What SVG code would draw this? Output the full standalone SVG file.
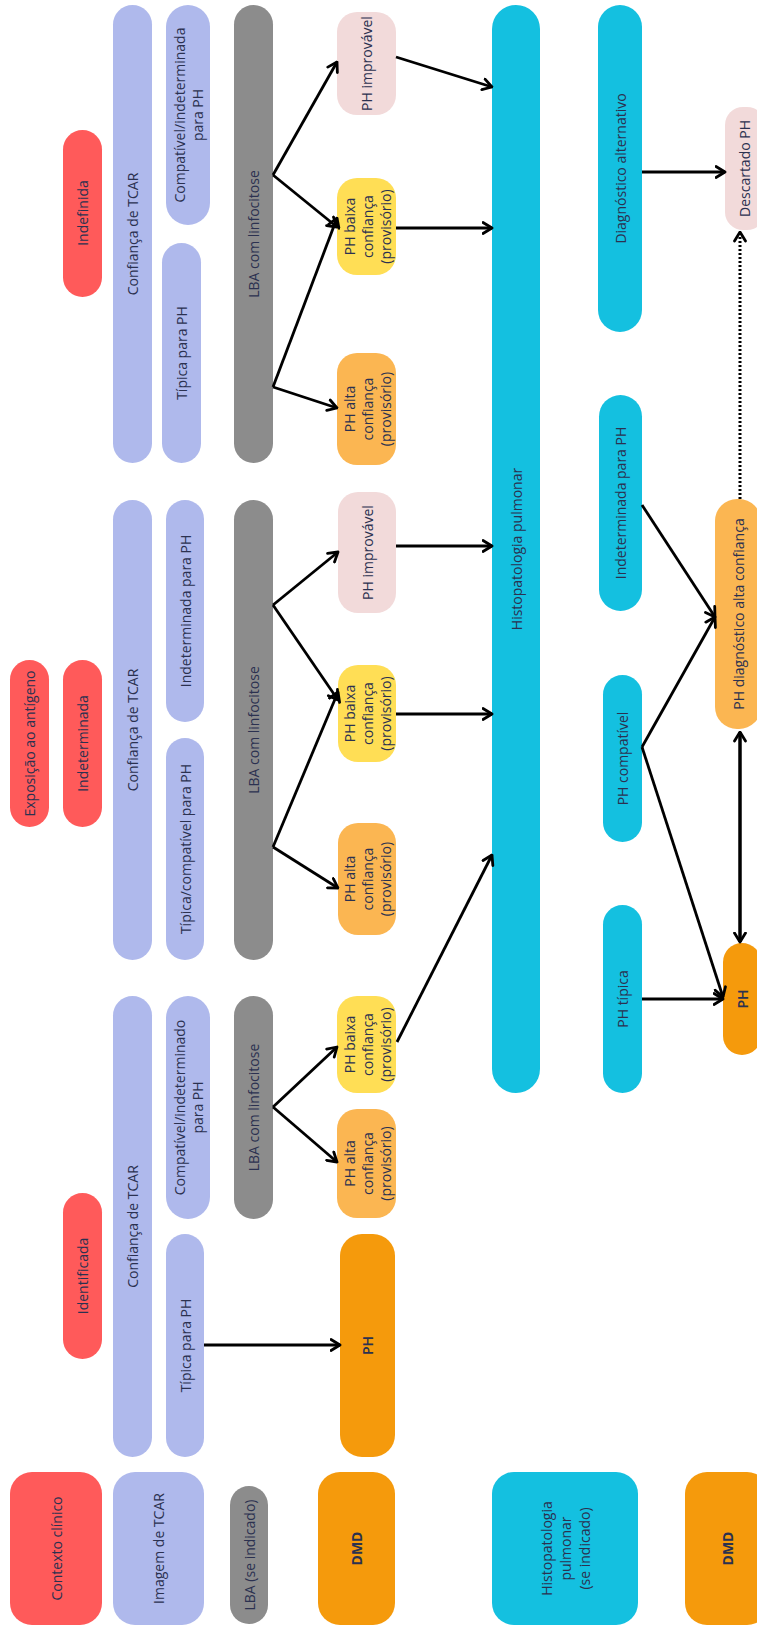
<svg xmlns="http://www.w3.org/2000/svg" width="757" height="1632" viewBox="0 0 757 1632">
<defs>
<style>
.red{fill:#FF5A5A}
.lav{fill:#AFB9EC}
.gray{fill:#8C8C8C}
.org{fill:#F59A0C}
.lor{fill:#FBB652}
.yel{fill:#FFDE55}
.pink{fill:#F2DADA}
.cyan{fill:#14C0E0}
text{font-family:"Open Sans","Noto Sans","Liberation Sans",sans-serif;font-size:14px;fill:#2b3150;text-anchor:middle;dominant-baseline:central}
.b{font-weight:bold}
.sb{font-weight:600}
.c line{stroke:#000;stroke-width:2.8;fill:none;marker-end:url(#ah)}
</style>
<marker id="ah" viewBox="0 0 12 14" refX="10.5" refY="7" markerWidth="12" markerHeight="14" markerUnits="userSpaceOnUse" orient="auto-start-reverse">
<path d="M1.5,1.5 L10.5,7 L1.5,12.5" fill="none" stroke="#000" stroke-width="2.8" stroke-linecap="round" stroke-linejoin="round"/>
</marker>
</defs>
<rect width="757" height="1632" fill="#fff"/>

<!-- Top group: Indefinida -->
<g id="n_indefinida"><rect class="red" x="63" y="130" width="39" height="167" rx="19.5"/><text transform="translate(82.5,213) rotate(-90)">Indefinida</text></g>
<g id="n_conf3"><rect class="lav" x="113" y="5" width="39" height="458" rx="19.5"/><text transform="translate(132.5,234) rotate(-90)">Confiança de TCAR</text></g>
<g id="n_compat3"><rect class="lav" x="166" y="5" width="44" height="220" rx="22"/><text transform="translate(188,115) rotate(-90)"><tspan x="0" dy="-9">Compatível/indeterminada</tspan><tspan x="0" dy="18">para PH</tspan></text></g>
<g id="n_tipica3"><rect class="lav" x="162" y="243" width="39" height="220" rx="19.5"/><text transform="translate(181.5,353) rotate(-90)">Típica para PH</text></g>
<g id="n_lba3"><rect class="gray" x="234" y="5" width="39" height="458" rx="19.5"/><text transform="translate(253.5,234) rotate(-90)">LBA com linfocitose</text></g>
<g id="n_improv3"><rect class="pink" x="337" y="12" width="59" height="103" rx="20"/><text transform="translate(366.5,63.5) rotate(-90)">PH improvável</text></g>
<g id="n_baixa3"><rect class="yel" x="337" y="178" width="59" height="97" rx="20"/><text transform="translate(366.5,226.5) rotate(-90)"><tspan x="0" dy="-18">PH baixa</tspan><tspan x="0" dy="18">confiança</tspan><tspan x="0" dy="18">(provisório)</tspan></text></g>
<g id="n_alta3"><rect class="lor" x="337" y="353" width="59" height="112" rx="20"/><text transform="translate(366.5,409) rotate(-90)"><tspan x="0" dy="-18">PH alta</tspan><tspan x="0" dy="18">confiança</tspan><tspan x="0" dy="18">(provisório)</tspan></text></g>

<!-- Middle group: Exposição ao antígeno / Indeterminada -->
<g id="n_expo"><rect class="red" x="10" y="660" width="39" height="167" rx="19.5"/><text transform="translate(29.5,743.5) rotate(-90)">Exposição ao antígeno</text></g>
<g id="n_indet2"><rect class="red" x="63" y="660" width="39" height="167" rx="19.5"/><text transform="translate(82.5,743.5) rotate(-90)">Indeterminada</text></g>
<g id="n_conf2"><rect class="lav" x="113" y="500" width="39" height="460" rx="19.5"/><text transform="translate(132.5,730) rotate(-90)">Confiança de TCAR</text></g>
<g id="n_indetPH2"><rect class="lav" x="166" y="500" width="38" height="222" rx="19"/><text transform="translate(185,611) rotate(-90)">Indeterminada para PH</text></g>
<g id="n_tipcomp2"><rect class="lav" x="166" y="738" width="38" height="222" rx="19"/><text transform="translate(185,849) rotate(-90)">Típica/compatível para PH</text></g>
<g id="n_lba2"><rect class="gray" x="234" y="500" width="39" height="460" rx="19.5"/><text transform="translate(253.5,730) rotate(-90)">LBA com linfocitose</text></g>
<g id="n_improv2"><rect class="pink" x="338" y="492" width="58" height="121" rx="20"/><text transform="translate(367,552.5) rotate(-90)">PH improvável</text></g>
<g id="n_baixa2"><rect class="yel" x="338" y="665" width="58" height="97" rx="20"/><text transform="translate(367,713.5) rotate(-90)"><tspan x="0" dy="-18">PH baixa</tspan><tspan x="0" dy="18">confiança</tspan><tspan x="0" dy="18">(provisório)</tspan></text></g>
<g id="n_alta2"><rect class="lor" x="338" y="823" width="58" height="112" rx="20"/><text transform="translate(367,879) rotate(-90)"><tspan x="0" dy="-18">PH alta</tspan><tspan x="0" dy="18">confiança</tspan><tspan x="0" dy="18">(provisório)</tspan></text></g>

<!-- Bottom group: Identificada -->
<g id="n_ident"><rect class="red" x="63" y="1193" width="39" height="166" rx="19.5"/><text transform="translate(82.5,1276) rotate(-90)">Identificada</text></g>
<g id="n_conf1"><rect class="lav" x="113" y="996" width="39" height="461" rx="19.5"/><text transform="translate(132.5,1226.5) rotate(-90)">Confiança de TCAR</text></g>
<g id="n_compat1"><rect class="lav" x="166" y="996" width="44" height="223" rx="22"/><text transform="translate(188,1107.5) rotate(-90)"><tspan x="0" dy="-9">Compatível/indeterminado</tspan><tspan x="0" dy="18">para PH</tspan></text></g>
<g id="n_tipica1"><rect class="lav" x="166" y="1234" width="38" height="223" rx="19"/><text transform="translate(185,1345.5) rotate(-90)">Típica para PH</text></g>
<g id="n_lba1"><rect class="gray" x="234" y="996" width="39" height="223" rx="19.5"/><text transform="translate(253.5,1107.5) rotate(-90)">LBA com linfocitose</text></g>
<g id="n_baixa1"><rect class="yel" x="337" y="996" width="59" height="97" rx="20"/><text transform="translate(366.5,1044.5) rotate(-90)"><tspan x="0" dy="-18">PH baixa</tspan><tspan x="0" dy="18">confiança</tspan><tspan x="0" dy="18">(provisório)</tspan></text></g>
<g id="n_alta1"><rect class="lor" x="337" y="1109" width="59" height="109" rx="20"/><text transform="translate(366.5,1163.5) rotate(-90)"><tspan x="0" dy="-18">PH alta</tspan><tspan x="0" dy="18">confiança</tspan><tspan x="0" dy="18">(provisório)</tspan></text></g>
<g id="n_ph1"><rect class="org" x="340" y="1234" width="55" height="223" rx="22"/><text class="sb" transform="translate(367.5,1345.5) rotate(-90)">PH</text></g>

<!-- Right: histopathology -->
<g id="n_histo"><rect class="cyan" x="492" y="5" width="48" height="1088" rx="24"/><text transform="translate(516,549) rotate(-90)">Histopatologia pulmonar</text></g>
<g id="n_diagalt"><rect class="cyan" x="598" y="5" width="44" height="327" rx="22"/><text transform="translate(620,168.5) rotate(-90)">Diagnóstico alternativo</text></g>
<g id="n_indetH"><rect class="cyan" x="599" y="395" width="43" height="216" rx="21.5"/><text transform="translate(620.5,503) rotate(-90)">Indeterminada para PH</text></g>
<g id="n_compH"><rect class="cyan" x="603" y="675" width="39" height="167" rx="19.5"/><text transform="translate(622.5,758.5) rotate(-90)">PH compatível</text></g>
<g id="n_tipH"><rect class="cyan" x="603" y="905" width="39" height="188" rx="19.5"/><text transform="translate(622.5,999) rotate(-90)">PH típica</text></g>
<g id="n_desc"><rect class="pink" x="725" y="107" width="40" height="123" rx="18"/><text transform="translate(744,168.5) rotate(-90)">Descartado PH</text></g>
<g id="n_diagH"><rect class="lor" x="715" y="499" width="46" height="230" rx="22"/><text transform="translate(738,614) rotate(-90)">PH diagnóstico alta confiança</text></g>
<g id="n_phH"><rect class="org" x="723" y="943" width="38" height="112" rx="19"/><text class="sb" transform="translate(742,999) rotate(-90)">PH</text></g>

<!-- Legend row -->
<g id="n_lg_ctx"><rect class="red" x="10" y="1472" width="92" height="153" rx="22"/><text transform="translate(56,1548.5) rotate(-90)">Contexto clínico</text></g>
<g id="n_lg_tcar"><rect class="lav" x="113" y="1472" width="91" height="153" rx="22"/><text transform="translate(158.5,1548.5) rotate(-90)">Imagem de TCAR</text></g>
<g id="n_lg_lba"><rect class="gray" x="230" y="1486" width="38" height="138" rx="19"/><text transform="translate(249,1555) rotate(-90)">LBA (se indicado)</text></g>
<g id="n_lg_dmd1"><rect class="org" x="318" y="1472" width="77" height="153" rx="22"/><text class="b" transform="translate(356.5,1548.5) rotate(-90)">DMD</text></g>
<g id="n_lg_histo"><rect class="cyan" x="492" y="1472" width="146" height="153" rx="22"/><text transform="translate(565,1548.5) rotate(-90)"><tspan x="0" dy="-19">Histopatologia</tspan><tspan x="0" dy="19">pulmonar</tspan><tspan x="0" dy="19">(se indicado)</tspan></text></g>
<g id="n_lg_dmd2"><rect class="org" x="685" y="1472" width="84" height="153" rx="22"/><text class="b" transform="translate(727,1548.5) rotate(-90)">DMD</text></g>

<!-- Connectors -->
<g id="connectors" class="c">
<line x1="273" y1="175" x2="337" y2="62"/>
<line x1="273" y1="175" x2="337" y2="227"/>
<line x1="273" y1="387" x2="337" y2="218"/>
<line x1="273" y1="387" x2="337" y2="408"/>
<line x1="396" y1="57" x2="492" y2="87"/>
<line x1="396" y1="228" x2="492" y2="228"/>
<line x1="273" y1="605" x2="338" y2="552"/>
<line x1="273" y1="605" x2="338" y2="700"/>
<line x1="273" y1="847" x2="338" y2="692"/>
<line x1="273" y1="847" x2="338" y2="888"/>
<line x1="396" y1="546" x2="492" y2="546"/>
<line x1="396" y1="714" x2="492" y2="714"/>
<line x1="273" y1="1107" x2="337" y2="1047"/>
<line x1="273" y1="1107" x2="337" y2="1162"/>
<line x1="204" y1="1345" x2="340" y2="1345"/>
<line x1="397" y1="1042" x2="492" y2="855"/>
<line x1="642" y1="172" x2="725" y2="172"/>
<line x1="740" y1="499" x2="740" y2="232" stroke-dasharray="2 2" style="stroke-width:3"/>
<line x1="642" y1="505" x2="715" y2="617"/>
<line x1="642" y1="747" x2="715" y2="617"/>
<line x1="642" y1="747" x2="723" y2="997"/>
<line x1="642" y1="999" x2="723" y2="999"/>
<line x1="740" y1="732" x2="740" y2="942" style="stroke-width:3.5;marker-start:url(#ah)"/>
</g>
</svg>
